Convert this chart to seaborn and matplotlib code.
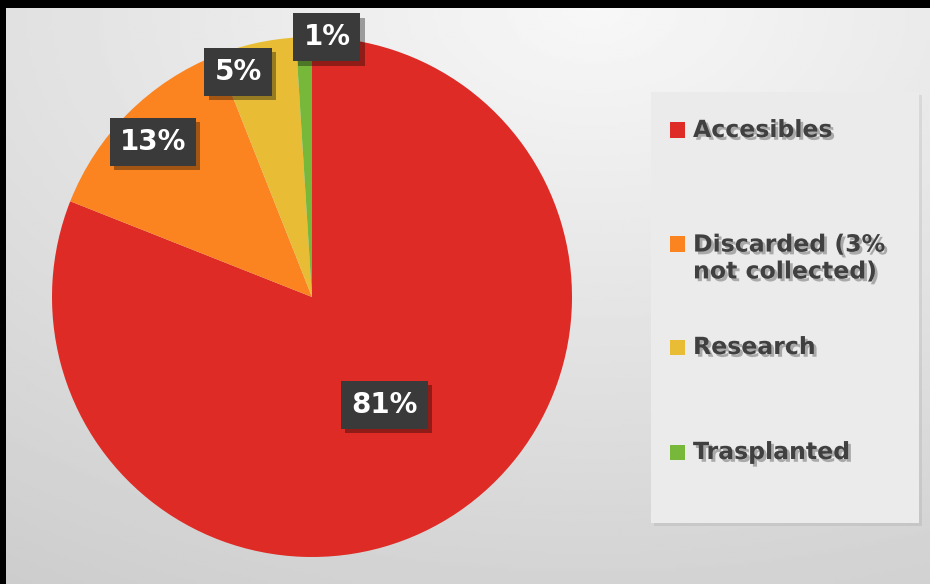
import numpy as np
import matplotlib
matplotlib.use("Agg")
import matplotlib.pyplot as plt
import matplotlib.patheffects as pe
from matplotlib.patches import Rectangle
import seaborn as sns

# ---- data ----
categories = ["Accesibles", "Discarded (3%\nnot collected)", "Research", "Trasplanted"]
values = [81, 13, 5, 1]
pct_labels = ["81%", "13%", "5%", "1%"]
colors = ["#DE2B25", "#FB8320", "#E8BD35", "#77B83B"]

sns.set_theme(style="white")
plt.rcParams["font.family"] = ["DejaVu Sans"]

W, H = 930, 584
fig = plt.figure(figsize=(W / 100, H / 100), dpi=100, facecolor="black")

# background gradient (inside black frame on left/top)
bg = fig.add_axes([6 / W, 0, 1 - 6 / W, 1 - 8 / H])
yy, xx = np.mgrid[0:200, 0:300]
cx, cy = 190, 0
d = np.sqrt(((xx - cx) / 300) ** 2 + ((yy - cy) / 200) ** 2)
val = 0.97 - 0.17 * np.clip(d, 0, 1.2) / 1.2
bg.imshow(val, cmap="gray", vmin=0, vmax=1, aspect="auto", extent=[0, 1, 0, 1], origin="upper")
bg.set_axis_off()

# pie axes: center (312,297), radius 260 px
cxp, cyp, R = 312, 297, 260
ax = fig.add_axes([(cxp - R) / W, (H - cyp - R) / H, 2 * R / W, 2 * R / H])
wedges, _ = ax.pie(values, colors=colors, startangle=90, counterclock=False,
                   radius=1, wedgeprops=dict(linewidth=0))
ax.set_xlim(-1, 1)
ax.set_ylim(-1, 1)
ax.set_axis_off()

# label placement (style): radial distance and angular shift per wedge
label_r = [0.50, 0.855, 0.91, 1.0]
label_shift = [-0.4, 0.7, 5.6, -5.1]
for w, lab, r, s in zip(wedges, pct_labels, label_r, label_shift):
    ang = np.deg2rad((w.theta1 + w.theta2) / 2 + s)
    t = ax.text(r * np.cos(ang), r * np.sin(ang), lab, ha="center", va="center",
                color="white", fontsize=20, fontweight="bold",
                bbox=dict(boxstyle="square,pad=0.36", facecolor="#3A3A3A", edgecolor="none"),
                clip_on=False, zorder=5)
    t.get_bbox_patch().set_path_effects([
        pe.SimplePatchShadow(offset=(3, -3), shadow_rgbFace="black", alpha=0.35),
        pe.Normal()])

# legend panel
lx0, ly0, lx1, ly1 = 651, 92, 919, 523
panel = Rectangle(((lx0) / W, (H - ly1) / H), (lx1 - lx0) / W, (ly1 - ly0) / H,
                  transform=fig.transFigure, facecolor="#EBEBEB", edgecolor="none",
                  zorder=3)
panel.set_path_effects([pe.SimplePatchShadow(offset=(2, -2), alpha=0.1), pe.Normal()])
fig.add_artist(panel)

square_y = [130, 244, 347, 452]
text_y = [130, 258, 347, 452]
for c, lab, sy, ty in zip(colors, categories, square_y, text_y):
    sq = Rectangle((670 / W, (H - sy - 7.5) / H), 15 / W, 15 / H,
                   transform=fig.transFigure, facecolor=c, edgecolor="none", zorder=4)
    fig.add_artist(sq)
    fig.text(693 / W, (H - ty) / H, lab, ha="left", va="center", fontsize=17,
             fontweight="bold", color="#404040", linespacing=1.15, zorder=5,
             path_effects=[pe.withSimplePatchShadow(offset=(2, -2), shadow_rgbFace="#000000", alpha=0.28)])

fig.savefig("out.png", dpi=100, facecolor=fig.get_facecolor())
